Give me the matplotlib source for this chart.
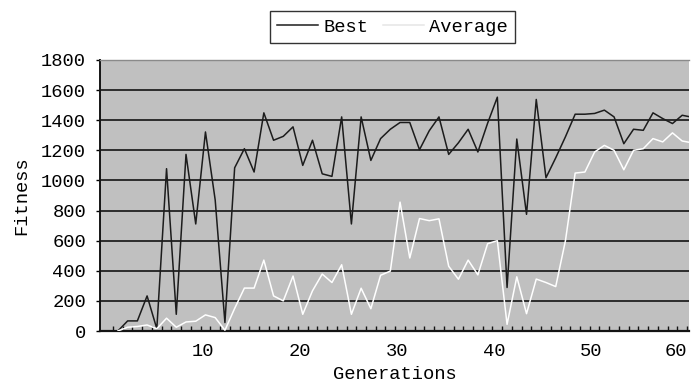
import matplotlib
matplotlib.use("Agg")
import matplotlib.pyplot as plt
from matplotlib.ticker import MultipleLocator

generations = list(range(1, 61))

best = [0, 67, 67, 233, 15, 1078, 111, 1173, 711, 1322,
        870, 56, 1084, 1211, 1056, 1449, 1267, 1293, 1356, 1100,
        1267, 1044, 1027, 1422, 711, 1422, 1133, 1278, 1340, 1385,
        1385, 1204, 1330, 1422, 1173, 1250, 1340, 1189, 1380, 1553,
        289, 1275, 775, 1538, 1018, 1150, 1290, 1440, 1440, 1445,
        1467, 1422, 1244, 1340, 1333, 1449, 1411, 1378, 1433, 1420]

average = [0, 25, 30, 40, 15, 85, 25, 60, 65, 107,
           89, 5, 150, 285, 285, 471, 233, 200, 365, 111,
           267, 378, 322, 440, 111, 284, 148, 370, 398, 856,
           485, 747, 733, 745, 430, 344, 471, 373, 580, 600,
           44, 360, 115, 345, 322, 295, 600, 1049, 1056, 1189,
           1233, 1200, 1071, 1200, 1211, 1278, 1256, 1316, 1262, 1250]

x_ticks = [9.7, 19.7, 29.7, 39.7, 49.6, 58.3]
x_labels = ["10", "20", "30", "40", "50", "60"]

font = "Liberation Mono"
fs = 13.5

fig = plt.figure(figsize=(6.91, 3.88), dpi=100)
ax = fig.add_axes([100 / 691, 57 / 388, 589 / 691, 271 / 388])
ax.set_facecolor("#c0c0c0")

ax.plot(generations, best, color="#1c1c1c", lw=1.1, label="Best", zorder=3)
ax.plot(generations, average, color="white", lw=1.1, label="Average", zorder=3)

ax.set_xlim(-0.84, 59.7)
ax.set_ylim(0, 1800)
ax.set_yticks(range(0, 1801, 200))
ax.set_xticks(x_ticks)
ax.set_xticklabels(x_labels)
ax.set_xticks([g + 0.5 for g in range(0, 60)], minor=True)
ax.xaxis.set_minor_formatter(plt.NullFormatter())

ax.set_axisbelow(True)
ax.yaxis.grid(True, color="#141414", lw=1.2)

ax.spines["right"].set_visible(False)
ax.spines["top"].set_color("#8a8a8a")
ax.spines["top"].set_linewidth(1.0)
ax.spines["left"].set_color("#141414")
ax.spines["left"].set_linewidth(1.4)
ax.spines["bottom"].set_color("#141414")
ax.spines["bottom"].set_linewidth(1.6)

ax.tick_params(axis="y", length=3, width=1, pad=7, labelsize=fs)
ax.tick_params(axis="x", which="major", length=0, pad=9, labelsize=fs)
ax.tick_params(axis="x", which="minor", direction="in", length=3.8, width=1, color="#141414")
for lab in ax.get_xticklabels() + ax.get_yticklabels():
    lab.set_fontfamily(font)

ax.set_xlabel("Generations", fontfamily=font, fontsize=fs, labelpad=4)
ax.set_ylabel("Fitness", fontfamily=font, fontsize=fs, labelpad=8)

leg = fig.legend(loc="center", bbox_to_anchor=(0.568, 0.930), ncol=2,
                 prop={"family": font, "size": fs}, frameon=True, fancybox=False,
                 edgecolor="black", handlelength=2.2, handletextpad=0.25,
                 columnspacing=0.8, borderpad=0.4)
leg.get_frame().set_linewidth(1.0)
leg.legend_handles[1].set_color("#e6e6e6")

fig.savefig("out.png", dpi=100)
